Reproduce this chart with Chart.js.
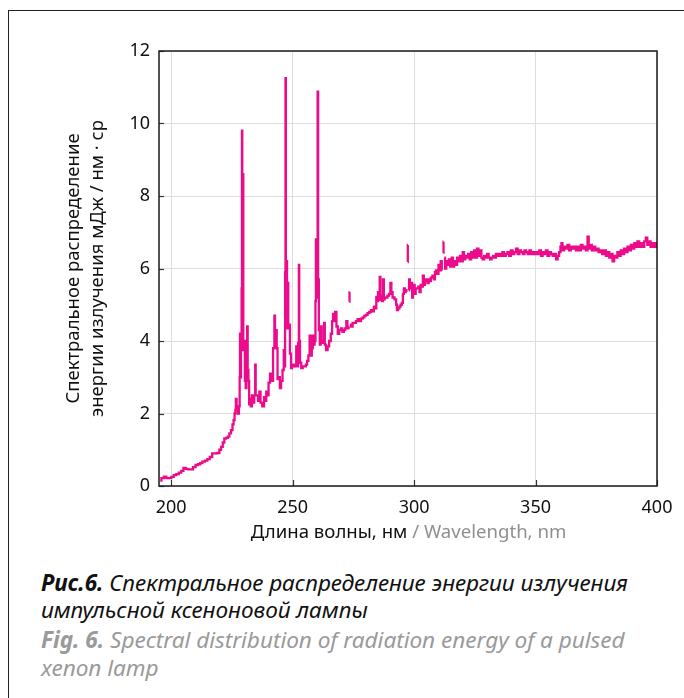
<!DOCTYPE html>
<html>
<head>
<meta charset="utf-8">
<script src="https://cdn.jsdelivr.net/npm/chart.js@4/dist/chart.umd.min.js"></script>
<style>
  html, body { margin: 0; padding: 0; background: #fff; }
  body { width: 684px; height: 698px; position: relative; overflow: hidden; }
  #frame { position: absolute; left: 8px; top: 10px; width: 720px; height: 720px;
           border-left: 1.3px solid #222; border-top: 1.3px solid #222; }
  #wrap { position: absolute; left: 0; top: 0; width: 684px; height: 560px; }
  #caption { position: absolute; left: 41px; top: 569px; width: 640px;
             font-family: "Noto Sans", "Open Sans", sans-serif; font-style: italic;
             font-size: 22.6px; line-height: 27px; letter-spacing: -0.05px; }
  #caption .ru { color: #111; }
  #caption .en { color: #9a9a9a; margin-top: 3px; line-height: 28px; }
  #caption b { font-weight: 700; }
</style>
</head>
<body>
<div id="frame"></div>
<div id="wrap"><canvas id="c"></canvas></div>
<div id="caption">
  <div class="ru"><b>Рис.6.</b> Спектральное распределение энергии излучения<br>импульсной ксеноновой лампы</div>
  <div class="en"><b>Fig. 6.</b> Spectral distribution of radiation energy of a pulsed<br>xenon lamp</div>
</div>
<script>
// ---- data ----
const xTicks = [200, 250, 300, 350, 400];
const yTicks = [0, 2, 4, 6, 8, 10, 12];
const xTitleRu = "Длина волны, нм";
const xTitleEn = " / Wavelength, nm";
const yTitle = ["Спектральное распределение", "энергии излучения мДж / нм · ср"];

const wavelength = [
  195.5,196.5,197.5,198.5,199.6,200.5,201.6,202.6,203.7,204.6,205.5,206.5,207.5,208.5,209.5,210.6,211.5,212.4,213.3,214.4,
  215.4,216.4,217.4,218.5,219.5,220.2,220.9,221.6,222.2,223.0,223.6,224.3,225.0,225.5,225.9,226.3,226.6,226.7,227.2,227.7,
  228.1,228.3,228.4,228.6,228.9,229.1,229.2,229.35,229.6,229.8,230.1,230.6,230.8,231.2,231.4,231.6,232.0,232.2,232.6,233.0,
  233.5,233.9,234.5,234.7,234.9,235.5,236.0,236.6,237.0,238.0,238.5,238.9,239.4,239.8,240.4,241.0,241.5,242.4,242.6,242.9,
  243.3,243.6,244.0,244.5,245.0,245.5,246.2,246.5,246.8,247.0,247.15,247.3,247.6,247.8,248.1,248.3,248.6,249.2,249.5,250.0,
  250.6,251.3,251.7,252.0,252.5,252.65,252.8,253.3,253.8,254.5,255.2,255.7,256.2,256.8,257.2,257.6,258.2,258.4,258.8,259.3,
  259.5,259.7,259.9,260.2,260.4,260.6,261.0,261.4,261.7,262.2,262.8,263.1,263.4,264.1,264.7,265.4,266.0,266.5,266.8,267.2,
  267.8,268.3,268.9,269.5,270.2,270.8,271.4,271.9,272.3,272.8,273.2,273.3,273.4,273.45,273.5,273.6,274.4,275.0,275.7,276.4,
  277.1,277.8,278.5,279.2,279.9,280.5,281.2,281.9,282.6,283.2,283.7,284.2,284.7,285.0,285.3,285.7,286.0,286.3,286.7,287.0,
  287.4,287.7,288.1,288.7,289.4,290.0,290.5,290.8,291.5,292.4,292.8,293.1,293.7,294.2,294.7,295.2,295.6,296.0,296.4,296.7,
  297.0,297.3,297.4,297.45,297.5,297.8,298.1,298.4,298.8,299.1,299.3,299.7,300.1,300.4,300.9,301.5,302.0,302.5,302.9,303.4,
  303.8,304.2,304.7,305.2,305.8,306.2,306.6,307.2,307.9,308.4,308.8,309.2,309.8,310.3,310.7,311.2,311.6,311.9,312.1,312.15,
  312.3,312.5,313.0,313.5,314.0,314.6,315.2,315.8,316.2,316.8,317.4,318.0,318.6,319.2,319.8,320.3,320.8,321.4,322.0,322.6,
  323.2,323.8,324.4,325.0,325.6,326.2,326.8,327.4,328.0,328.5,329.2,329.8,330.4,331.0,331.6,332.2,332.8,333.4,334.0,334.7,
  335.4,336.0,336.7,337.4,338.1,338.8,339.5,340.2,340.9,341.6,342.3,343.0,343.7,344.4,345.1,345.8,346.4,347.1,347.8,348.5,
  349.2,349.9,350.5,351.2,351.9,352.6,353.2,353.9,354.6,355.3,356.0,356.7,357.4,358.1,358.8,359.4,360.0,360.5,360.8,361.4,
  362.1,362.8,363.5,364.2,364.9,365.6,366.3,366.9,367.6,368.3,369.0,369.7,370.4,371.1,371.7,372.1,372.8,373.5,374.2,374.9,
  375.6,376.3,377.0,377.9,378.6,379.3,380.0,380.7,381.4,382.0,382.7,383.4,384.0,384.7,385.4,386.1,386.8,387.5,388.2,388.9,
  389.6,390.3,391.0,391.6,392.3,393.0,393.7,394.4,395.1,395.7,396.3,397.0,397.7,398.5,399.2,400.0
];
const energy = [
  0.15,0.22,0.26,0.22,0.22,0.25,0.30,0.33,0.37,0.42,0.50,0.47,0.46,0.46,0.52,0.58,0.60,0.63,0.67,0.70,
  0.74,0.80,0.90,0.90,0.91,1.00,1.08,1.20,1.31,1.33,1.36,1.45,1.54,1.70,1.82,2.00,2.10,2.40,2.15,2.00,
  2.20,3.00,4.20,3.00,4.00,5.45,9.80,5.50,8.60,3.75,4.00,2.90,2.70,3.20,4.40,3.20,2.90,2.25,2.40,2.20,
  2.50,2.30,2.50,3.35,2.50,2.50,2.35,2.60,2.30,2.20,2.45,2.35,2.60,2.50,2.85,3.10,2.90,3.80,4.70,3.85,
  4.30,3.80,2.95,3.00,2.70,2.90,3.20,3.75,3.30,5.90,11.25,5.90,6.20,4.35,5.60,4.40,4.45,3.65,3.25,3.35,
  3.30,3.35,3.85,3.30,3.95,6.10,4.00,3.40,3.25,3.30,3.30,3.35,3.45,3.60,4.15,3.60,3.80,4.15,3.90,4.00,
  5.10,6.80,5.20,5.70,10.88,5.70,4.30,3.90,4.40,4.00,3.95,4.50,3.90,3.75,3.85,4.00,4.20,4.55,4.75,4.55,
  4.80,4.40,4.20,4.30,4.35,4.25,4.30,4.35,4.55,4.35,4.40,null,5.08,5.35,null,4.45,4.40,4.50,4.50,4.55,
  4.60,4.55,4.62,4.65,4.70,4.72,4.77,4.80,4.85,4.82,4.95,4.90,5.22,5.10,5.35,5.15,5.77,5.13,5.25,5.10,
  5.70,5.15,5.20,5.20,5.25,5.30,5.60,5.35,5.20,5.15,5.00,4.85,4.90,4.95,5.00,5.05,5.30,5.45,5.35,5.40,
  5.35,null,6.18,6.65,null,5.40,5.70,5.45,5.55,5.60,5.20,5.45,5.55,5.30,5.45,5.45,5.50,5.35,5.55,5.50,
  5.80,5.55,5.65,5.70,5.60,5.70,5.65,5.75,5.80,5.70,5.90,5.95,5.85,6.10,5.95,6.20,5.95,null,6.43,6.74,
  null,6.30,6.00,6.20,6.10,6.25,6.05,6.30,6.05,6.20,6.10,6.30,6.20,6.35,6.20,6.45,6.25,6.35,6.30,6.40,
  6.25,6.45,6.30,6.50,6.30,6.55,6.35,6.50,6.30,6.25,6.35,6.30,6.40,6.30,6.25,6.30,6.35,6.30,6.40,6.35,
  6.40,6.35,6.45,6.35,6.40,6.45,6.35,6.50,6.40,6.45,6.55,6.40,6.50,6.45,6.40,6.50,6.45,6.40,6.50,6.40,
  6.45,6.40,6.45,6.40,6.50,6.35,6.45,6.40,6.50,6.35,6.45,6.40,6.35,6.40,6.25,6.35,6.45,6.60,6.70,6.50,
  6.60,6.55,6.65,6.50,6.60,6.55,6.60,6.50,6.60,6.50,6.65,6.55,6.60,6.50,6.88,6.55,6.65,6.50,6.60,6.50,
  6.55,6.45,6.50,6.40,6.50,6.35,6.45,6.30,6.40,6.20,6.35,6.30,6.45,6.35,6.50,6.40,6.55,6.45,6.60,6.50,
  6.65,6.55,6.70,6.60,6.75,6.60,6.70,6.60,6.75,6.85,6.65,6.75,6.60,6.70,6.60,6.70
];

const points = wavelength.map((w, i) => ({ x: w, y: energy[i] }));

const FONT = '"Noto Sans", "Open Sans", sans-serif';

const decor = {
  id: 'decor',
  afterDatasetsDraw(chart) {
    const { ctx, chartArea: a, scales } = chart;
    ctx.save();
    // inner tick marks
    ctx.strokeStyle = '#333';
    ctx.lineWidth = 1.2;
    yTicks.forEach(v => {
      const y = Math.round(scales.y.getPixelForValue(v)) + 0.5;
      ctx.beginPath(); ctx.moveTo(a.left, y); ctx.lineTo(a.left + 5, y); ctx.stroke();
    });
    xTicks.forEach(v => {
      const x = Math.round(scales.x.getPixelForValue(v)) + 0.5;
      ctx.beginPath(); ctx.moveTo(x, a.bottom); ctx.lineTo(x, a.bottom - 6); ctx.stroke();
    });
    // plot frame
    ctx.strokeStyle = '#1a1a1a';
    ctx.lineWidth = 1.5;
    ctx.strokeRect(a.left, a.top, a.right - a.left, a.bottom - a.top);
    // x axis title (two colours)
    ctx.font = '18.6px ' + FONT;
    ctx.textBaseline = 'middle';
    const w1 = ctx.measureText(xTitleRu).width;
    const w2 = ctx.measureText(xTitleEn).width;
    const cx = 408.5;
    let x0 = cx - (w1 + w2) / 2;
    ctx.textAlign = 'left';
    ctx.fillStyle = '#111';
    ctx.fillText(xTitleRu, x0, 533);
    ctx.fillStyle = '#8f8f8f';
    ctx.fillText(xTitleEn, x0 + w1, 533);
    ctx.restore();
  }
};

new Chart(document.getElementById('c'), {
  type: 'line',
  data: {
    datasets: [{
      data: points,
      borderColor: '#ec0b8b',
      borderWidth: 2.3,
      pointRadius: 0,
      tension: 0,
      stepped: 'middle',
      spanGaps: false,
      fill: false
    }]
  },
  options: {
    responsive: true,
    maintainAspectRatio: false,
    devicePixelRatio: 1,
    animation: false,
    layout: { padding: { top: 51, right: 27, left: 0, bottom: 0 } },
    plugins: { legend: { display: false }, tooltip: { enabled: false } },
    scales: {
      x: {
        type: 'linear',
        min: 195,
        max: 400,
        afterBuildTicks: s => { s.ticks = xTicks.map(v => ({ value: v })); },
        afterFit: s => { s.height = 74; },
        grid: { color: '#dddddd', lineWidth: 1, drawTicks: false },
        border: { display: false },
        ticks: { color: '#111', padding: 11, font: { family: FONT, size: 18 }, maxRotation: 0 }
      },
      y: {
        min: 0,
        max: 12,
        afterBuildTicks: s => { s.ticks = yTicks.map(v => ({ value: v })); },
        afterFit: s => { s.width = 159; },
        grid: { color: '#dddddd', lineWidth: 1, drawTicks: false },
        border: { display: false },
        ticks: { color: '#111', padding: 9, font: { family: FONT, size: 18 } },
        title: {
          display: true,
          text: yTitle,
          color: '#111',
          font: { family: FONT, size: 18.5, lineHeight: 1.27 },
          padding: { top: 62, bottom: 0 }
        }
      }
    }
  },
  plugins: [decor]
});
</script>
</body>
</html>
